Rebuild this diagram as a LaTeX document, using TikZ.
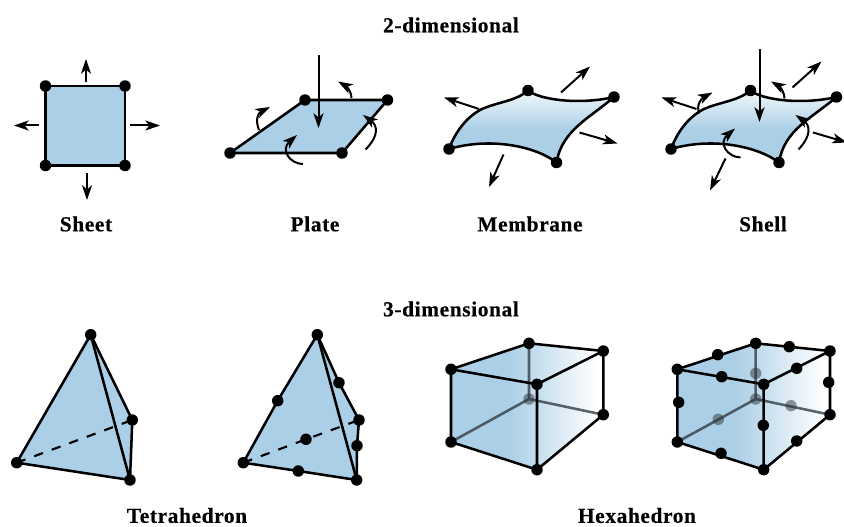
\documentclass[tikz,border=0pt]{standalone}
\usepackage{fontspec}
\setmainfont{Liberation Serif}[LetterSpace=3,FakeBold=0.4]
\usetikzlibrary{arrows.meta}
\definecolor{fb}{HTML}{ABCFE6}
\pgfdeclarelayer{bg}
\pgfsetlayers{bg,main}
\pgfdeclarehorizontalshading{hexs}{100bp}{color(0bp)=(fb); color(25bp)=(fb); color(44bp)=(fb); color(73bp)=(white); color(100bp)=(white)}
\pgfdeclareverticalshading{mems}{100bp}{color(0bp)=(fb); color(25bp)=(fb); color(48bp)=(fb); color(75bp)=(fb!15!white); color(100bp)=(fb!15!white)}
\tikzset{
  x=0.75pt,y=-0.75pt,
  dot/.style={circle,fill=black,inner sep=0pt,minimum size=8.6pt},
  hdot/.style={circle,fill=black!75!fb,opacity=.5,inner sep=0pt,minimum size=8.6pt},
  edge/.style={line width=1.9pt,line join=round,line cap=round},
  hidden/.style={line width=1.9pt,draw=black!70!fb,opacity=.8},
  force/.style={line width=1.5pt,-{Stealth[length=11pt,width=7.5pt,inset=3pt]}},
  ttl/.style={font=\bfseries\fontsize{16}{18}\selectfont,text=black,inner sep=0pt},
}
\newcommand{\farrow}[3]{\coordinate (#1a) at (#2);\coordinate (#1b) at (#3);\draw[force] (#1a) -- (#1b);}
\newcommand{\marrow}[5]{\coordinate (#1a) at (#2);\coordinate (#1b) at (#5);\draw[force] (#1a) .. controls (#3) and (#4) .. (#1b);}
\begin{document}
\begin{tikzpicture}
\useasboundingbox (0,0) rectangle (844,527);
% titles
\node[ttl] (t2d) at (451,25) {2-dimensional};
\node[ttl] (t3d) at (451,309) {3-dimensional};
\node[ttl] (lsheet) at (86,224) {Sheet};
\node[ttl] (lplate) at (315,224) {Plate};
\node[ttl] (lmem) at (530,224) {Membrane};
\node[ttl] (lshell) at (763,224) {Shell};
\node[ttl] (ltet) at (187,515.5) {Tetrahedron};
\node[ttl] (lhex) at (637,515.5) {Hexahedron};
% Sheet
\node[dot] (s1) at (45.5,86) {};
\node[dot] (s2) at (125,86) {};
\node[dot] (s3) at (125,165.5) {};
\node[dot] (s4) at (45.5,165.5) {};
\begin{pgfonlayer}{bg}
\draw[edge,fill=fb] (s1.center) -- (s2.center) -- (s3.center) -- (s4.center) -- cycle;
\end{pgfonlayer}
\farrow{sa}{86,82}{86,59}
\farrow{sb}{130,125.5}{160,125.5}
\farrow{sc}{39,125.5}{14,125.5}
\farrow{sd}{87,173}{87,200}
% Plate
\node[dot] (p1) at (230,153) {};
\node[dot] (p2) at (305,100) {};
\node[dot] (p3) at (387.5,100) {};
\node[dot] (p4) at (342,153) {};
\begin{pgfonlayer}{bg}
\fill[fb] (p1.center) -- (p2.center) -- (p3.center) -- (p4.center) -- cycle;
\end{pgfonlayer}
\draw[edge] (p1.center) -- (p2.center) -- (p3.center) -- (p4.center) -- cycle;
\farrow{pa}{318.5,55}{318.5,128}
\marrow{pb}{259,130}{255,120}{258,113}{270,107}
\marrow{pc}{351.5,98}{351,90}{346,86}{338,81.5}
\marrow{pd}{303,164}{290,164}{280,150}{297,135}
\marrow{pe}{365.5,149.5}{380,135}{377,125}{363,115}
% Membrane
\node[dot] (m1) at (449,149) {};
\node[dot] (m2) at (528,90.5) {};
\node[dot] (m3) at (614,97) {};
\node[dot] (m4) at (556.5,162.5) {};
\begin{pgfonlayer}{bg}
\draw[edge,shade,shading=mems] (m1.center) .. controls (456,130) and (468,116) .. (482,109) .. controls (498,102) and (516,101) .. (m2.center) .. controls (540,100) and (580,105) .. (m3.center) .. controls (590,118) and (562,130) .. (m4.center) .. controls (535,146) and (490,137) .. (m1.center) -- cycle;
\end{pgfonlayer}
\farrow{ma}{561,92.5}{590,66.5}
\farrow{mb}{479,109}{444,97.5}
\farrow{mc}{579.5,132.5}{617.5,143.5}
\farrow{md}{503.5,154.5}{489,187}
% Shell
\node[dot] (h1) at (671,149) {};
\node[dot] (h2) at (750.5,90.5) {};
\node[dot] (h3) at (836.5,97) {};
\node[dot] (h4) at (779,162.5) {};
\begin{pgfonlayer}{bg}
\draw[edge,shade,shading=mems] (h1.center) .. controls (678,130) and (690,116) .. (704,109) .. controls (720,102) and (738,101) .. (h2.center) .. controls (762,100) and (802,105) .. (h3.center) .. controls (812,118) and (784,130) .. (h4.center) .. controls (757,146) and (712,137) .. (h1.center) -- cycle;
\end{pgfonlayer}
\farrow{ha}{759.5,49.5}{759.5,122}
\farrow{hb}{696.5,109}{661.5,97.5}
\farrow{hc}{792.5,87.5}{821.5,61.5}
\farrow{hd}{813,132.5}{847,142.5}
\farrow{he}{725.5,158.5}{710,190.5}
\marrow{hf}{699,113.5}{696,104}{702,98}{712.5,92.5}
\marrow{hg}{784.5,98.5}{784,90}{779,86}{771,81.5}
\marrow{hh}{740.5,157.5}{727,157}{718,143}{735,128.5}
\marrow{hi}{798.5,149.5}{812,135}{810,125}{795.5,115}
% Tetrahedron 1
\node[dot] (a1) at (90.7,334.7) {};
\node[dot] (a2) at (16.7,462.7) {};
\node[dot] (a3) at (130,480) {};
\node[dot] (a4) at (132.3,420) {};
\begin{pgfonlayer}{bg}
\fill[fb] (a1.center) -- (a2.center) -- (a3.center) -- (a4.center) -- cycle;
\end{pgfonlayer}
\draw[edge] (a1.center) -- (a2.center) -- (a3.center) -- (a4.center) -- cycle;
\draw[edge] (a1.center) -- (a3.center);
\draw[line width=1.6pt,dash pattern=on 7pt off 7pt] (a2.center) -- (a4.center);
% Tetrahedron 2
\node[dot] (b1) at (317.3,334.7) {};
\node[dot] (b2) at (243.3,462.7) {};
\node[dot] (b3) at (356.7,480) {};
\node[dot] (b4) at (359,420) {};
\node[dot] (b5) at (277.7,400.7) {};
\node[dot] (b6) at (339,382.7) {};
\node[dot] (b7) at (306,439.3) {};
\node[dot] (b8) at (357,445.7) {};
\node[dot] (b9) at (298.3,471) {};
\begin{pgfonlayer}{bg}
\fill[fb] (b1.center) -- (b2.center) -- (b3.center) -- (b4.center) -- cycle;
\end{pgfonlayer}
\draw[edge] (b1.center) -- (b5.center) -- (b2.center) -- (b9.center) -- (b3.center) -- (b8.center) -- (b4.center) -- (b6.center) -- cycle;
\draw[edge] (b1.center) -- (b3.center);
\draw[line width=1.6pt,dash pattern=on 7pt off 7pt] (b2.center) -- (b7.center) -- (b4.center);
% Hexahedron 1
\node[dot] (c1) at (451,369.3) {};
\node[dot] (c2) at (529,343.3) {};
\node[dot] (c3) at (603.3,351) {};
\node[dot] (c4) at (537,384.3) {};
\node[dot] (c5) at (451,442) {};
\node[dot] (c6) at (537,469.7) {};
\node[dot] (c7) at (603.3,414.7) {};
\node[hdot] (c8) at (529,399) {};
\begin{pgfonlayer}{bg}
\shade[shading=hexs] (c1.center) -- (c2.center) -- (c3.center) -- (c7.center) -- (c6.center) -- (c5.center) -- cycle;
\draw[hidden] (c2.center) -- (c8.center) (c5.center) -- (c8.center) -- (c7.center);
\end{pgfonlayer}
\draw[edge] (c1.center) -- (c2.center) -- (c3.center) -- (c7.center) -- (c6.center) -- (c5.center) -- cycle;
\draw[edge] (c1.center) -- (c4.center) -- (c3.center) (c4.center) -- (c6.center);
% Hexahedron 2
\node[dot] (d1) at (677.3,369.3) {};
\node[dot] (d2) at (755.7,343.3) {};
\node[dot] (d3) at (830,351) {};
\node[dot] (d4) at (763.7,384.3) {};
\node[dot] (d5) at (677.3,442) {};
\node[dot] (d6) at (763.7,469.7) {};
\node[dot] (d7) at (830,414.7) {};
\node[hdot] (d8) at (755.7,399) {};
\node[dot] (e1) at (717.7,354.7) {};
\node[dot] (e2) at (789.3,346.7) {};
\node[dot] (e3) at (721.7,376.7) {};
\node[dot] (e4) at (796.7,368.3) {};
\node[dot] (e5) at (678.7,402.3) {};
\node[dot] (e6) at (828.7,382.3) {};
\node[dot] (e7) at (763.3,425.3) {};
\node[dot] (e8) at (721,453.3) {};
\node[dot] (e9) at (796.7,441) {};
\node[hdot] (f1) at (755.7,373.3) {};
\node[hdot] (f2) at (718.3,419.3) {};
\node[hdot] (f3) at (791,405.7) {};
\begin{pgfonlayer}{bg}
\shade[shading=hexs] (d1.center) -- (d2.center) -- (d3.center) -- (d7.center) -- (d6.center) -- (d5.center) -- cycle;
\draw[hidden] (d2.center) -- (d8.center) (d5.center) -- (d8.center) -- (d7.center);
\end{pgfonlayer}
\draw[edge] (d1.center) -- (d2.center) -- (d3.center) -- (d7.center) -- (d6.center) -- (d5.center) -- cycle;
\draw[edge] (d1.center) -- (d4.center) -- (d3.center) (d4.center) -- (d6.center);
\end{tikzpicture}
\end{document}
